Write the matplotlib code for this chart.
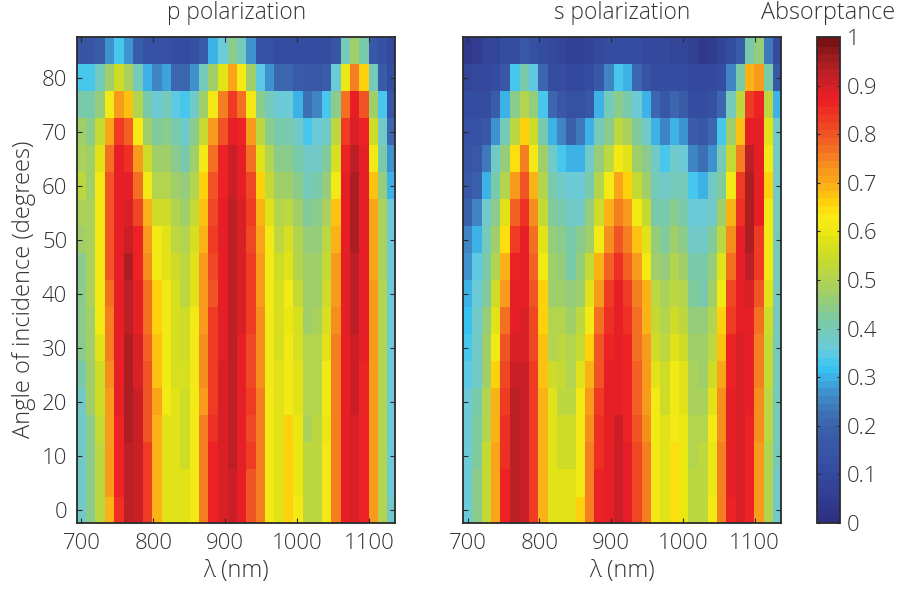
#!/usr/bin/env python3
"""Absorptance maps vs wavelength and angle of incidence, p and s polarization."""

import matplotlib
matplotlib.use('Agg')
import matplotlib.pyplot as plt
from matplotlib.colors import LinearSegmentedColormap

TEXT = '#333333'
plt.rcParams.update({
    'font.family': ['Open Sans', 'Liberation Sans', 'DejaVu Sans'],
    'font.weight': 'light',
    'font.size': 16,
    'text.color': TEXT,
    'axes.labelcolor': TEXT,
    'axes.labelweight': 'light',
    'axes.titleweight': 'light',
    'xtick.labelcolor': TEXT,
    'ytick.labelcolor': TEXT,
})

WAVELENGTHS = [700, 713, 726, 739, 752, 766, 779, 792, 805, 818, 831, 844,
               857, 870, 883, 897, 910, 923, 936, 949, 962, 975, 988, 1001,
               1014, 1028, 1041, 1054, 1067, 1080, 1093, 1106, 1119, 1132]
ANGLES = [85, 80, 75, 70, 65, 60, 55, 50, 45, 40, 35, 30, 25, 20, 15, 10, 5, 0]
X_TICKS = [700, 800, 900, 1000, 1100]
Y_TICKS = [0, 10, 20, 30, 40, 50, 60, 70, 80]
CBAR_TICKS = [0, .1, .2, .3, .4, .5, .6, .7, .8, .9, 1]
CBAR_LABELS = ['0', '0.1', '0.2', '0.3', '0.4', '0.5', '0.6', '0.7', '0.8', '0.9', '1']

# one row per angle, top of the plot first
P_ABS = [
    [.15, .15, .18, .28, .34, .28, .18, .14, .13, .13, .12, .12, .13, .18, .30, .37, .44, .40, .28, .14, .13, .12, .12, .12, .12, .12, .12, .15, .40, .47, .42, .17, .13, .10],
    [.34, .34, .40, .47, .56, .49, .40, .31, .26, .29, .21, .21, .28, .40, .47, .58, .71, .63, .47, .35, .28, .21, .21, .18, .17, .17, .18, .36, .60, .75, .66, .40, .18, .12],
    [.41, .41, .46, .61, .73, .68, .51, .41, .37, .40, .35, .34, .38, .47, .62, .75, .83, .78, .62, .45, .40, .36, .36, .31, .23, .26, .34, .45, .77, .88, .80, .48, .34, .15],
    [.47, .45, .54, .71, .83, .79, .63, .47, .43, .45, .41, .39, .44, .54, .73, .81, .88, .86, .73, .52, .45, .41, .41, .38, .34, .36, .39, .52, .83, .90, .86, .56, .39, .21],
    [.49, .47, .58, .77, .88, .85, .72, .56, .47, .48, .45, .42, .47, .62, .77, .86, .915, .88, .77, .58, .50, .45, .45, .42, .38, .39, .43, .57, .86, .93, .88, .62, .42, .28],
    [.52, .48, .62, .80, .88, .88, .77, .62, .50, .50, .47, .46, .50, .66, .80, .87, .915, .88, .82, .66, .54, .48, .48, .44, .40, .41, .46, .62, .88, .95, .88, .68, .46, .30],
    [.49, .49, .62, .80, .88, .895, .82, .69, .55, .55, .50, .48, .54, .68, .82, .88, .935, .905, .83, .69, .58, .50, .53, .47, .43, .45, .49, .68, .88, .95, .88, .71, .49, .36],
    [.48, .49, .62, .80, .88, .915, .86, .72, .61, .58, .52, .51, .57, .69, .83, .88, .935, .895, .82, .71, .61, .52, .57, .50, .46, .46, .53, .69, .88, .95, .88, .71, .49, .37],
    [.45, .49, .62, .80, .88, .945, .87, .74, .62, .58, .55, .53, .59, .72, .82, .88, .935, .895, .84, .72, .62, .55, .59, .51, .48, .48, .54, .72, .88, .925, .88, .71, .49, .37],
    [.44, .49, .62, .77, .88, .925, .88, .77, .66, .62, .57, .53, .59, .72, .81, .88, .935, .905, .84, .73, .62, .57, .61, .54, .48, .48, .55, .72, .88, .925, .88, .72, .50, .37],
    [.44, .47, .61, .75, .88, .925, .88, .77, .66, .62, .57, .55, .61, .72, .84, .88, .925, .895, .84, .74, .62, .57, .60, .57, .48, .49, .57, .74, .88, .925, .88, .72, .50, .37],
    [.44, .47, .58, .75, .88, .945, .905, .79, .68, .62, .57, .55, .61, .74, .84, .88, .925, .88, .82, .74, .62, .57, .62, .57, .50, .50, .58, .75, .88, .915, .88, .72, .50, .37],
    [.42, .47, .56, .74, .88, .945, .895, .81, .68, .62, .57, .57, .61, .74, .84, .895, .925, .88, .82, .74, .62, .58, .62, .58, .51, .51, .62, .75, .88, .915, .87, .72, .50, .37],
    [.38, .47, .55, .73, .88, .945, .915, .81, .71, .62, .58, .56, .62, .73, .84, .895, .925, .88, .83, .75, .62, .58, .62, .58, .51, .51, .62, .76, .88, .915, .87, .72, .50, .37],
    [.38, .45, .54, .72, .86, .945, .915, .81, .70, .58, .58, .55, .62, .76, .85, .895, .925, .88, .82, .75, .62, .58, .66, .60, .49, .53, .60, .76, .88, .895, .86, .72, .50, .37],
    [.38, .45, .53, .72, .86, .925, .915, .83, .69, .58, .58, .55, .62, .76, .86, .895, .925, .88, .83, .76, .62, .58, .66, .60, .53, .53, .62, .76, .88, .895, .86, .72, .50, .37],
    [.38, .45, .53, .72, .86, .925, .915, .83, .69, .58, .58, .58, .62, .76, .86, .895, .915, .88, .80, .76, .62, .58, .66, .60, .53, .53, .62, .76, .88, .895, .86, .72, .50, .37],
    [.38, .45, .53, .70, .85, .925, .915, .83, .69, .58, .58, .58, .62, .76, .86, .895, .915, .88, .80, .75, .62, .58, .66, .62, .53, .53, .62, .76, .88, .895, .86, .72, .50, .39],
]

S_ABS = [
    [.04, .05, .08, .09, .11, .12, .17, .13, .11, .10, .08, .07, .07, .08, .10, .11, .12, .12, .11, .10, .10, .10, .09, .08, .07, .04, .06, .08, .11, .18, .42, .46, .24, .11],
    [.09, .10, .10, .12, .17, .34, .41, .35, .21, .12, .11, .10, .10, .12, .17, .26, .33, .30, .21, .15, .11, .11, .12, .11, .10, .10, .10, .11, .26, .41, .69, .73, .42, .17],
    [.11, .11, .12, .18, .30, .45, .51, .46, .34, .21, .16, .13, .13, .17, .30, .40, .44, .41, .36, .30, .21, .16, .21, .18, .12, .12, .13, .21, .40, .53, .84, .86, .53, .30],
    [.13, .13, .17, .27, .40, .52, .67, .55, .41, .31, .26, .20, .24, .30, .40, .45, .53, .49, .43, .39, .31, .26, .30, .28, .18, .16, .21, .33, .47, .68, .88, .88, .58, .39],
    [.15, .17, .24, .38, .46, .65, .75, .62, .47, .38, .34, .31, .31, .38, .46, .53, .62, .59, .48, .44, .38, .34, .38, .36, .26, .23, .28, .40, .54, .75, .925, .89, .62, .39],
    [.17, .20, .30, .42, .50, .73, .80, .69, .50, .41, .38, .36, .37, .41, .50, .62, .71, .67, .54, .48, .40, .38, .40, .40, .33, .31, .38, .43, .62, .83, .945, .88, .66, .39],
    [.19, .26, .38, .44, .58, .79, .85, .74, .54, .43, .42, .38, .39, .46, .55, .69, .76, .73, .62, .54, .42, .41, .44, .42, .37, .36, .39, .48, .69, .85, .945, .88, .62, .40],
    [.25, .30, .40, .48, .65, .83, .88, .78, .58, .46, .44, .41, .44, .48, .62, .74, .81, .75, .68, .58, .46, .43, .48, .45, .39, .38, .43, .53, .74, .88, .95, .84, .62, .40],
    [.28, .35, .42, .51, .70, .86, .88, .79, .61, .47, .46, .42, .46, .54, .69, .79, .85, .79, .72, .62, .47, .46, .51, .47, .41, .41, .46, .58, .78, .88, .925, .84, .61, .40],
    [.30, .37, .43, .56, .73, .88, .88, .81, .66, .48, .47, .46, .48, .58, .73, .83, .88, .83, .75, .69, .52, .49, .53, .50, .43, .42, .47, .62, .82, .88, .905, .80, .59, .40],
    [.32, .38, .46, .58, .77, .88, .895, .82, .66, .51, .50, .48, .53, .62, .77, .85, .88, .85, .77, .70, .54, .51, .56, .53, .46, .46, .50, .66, .84, .88, .89, .78, .56, .40],
    [.34, .39, .47, .62, .80, .895, .895, .82, .68, .51, .52, .51, .54, .67, .80, .86, .88, .86, .78, .72, .56, .53, .59, .56, .48, .47, .53, .68, .86, .895, .88, .76, .54, .40],
    [.35, .39, .48, .66, .82, .915, .915, .84, .68, .56, .54, .51, .58, .69, .81, .88, .89, .87, .79, .72, .58, .55, .62, .58, .49, .48, .55, .71, .87, .895, .88, .75, .54, .40],
    [.37, .41, .50, .69, .84, .935, .915, .84, .70, .58, .52, .52, .62, .72, .83, .88, .89, .87, .79, .73, .62, .56, .62, .58, .49, .49, .58, .74, .89, .895, .88, .74, .52, .40],
    [.37, .43, .51, .69, .85, .935, .915, .84, .70, .58, .55, .55, .61, .74, .85, .88, .915, .87, .81, .74, .61, .58, .62, .60, .51, .51, .61, .74, .89, .895, .86, .74, .52, .40],
    [.37, .43, .54, .71, .85, .935, .915, .84, .70, .58, .55, .55, .62, .76, .85, .89, .915, .88, .82, .75, .62, .58, .65, .60, .51, .53, .60, .75, .88, .895, .86, .72, .50, .40],
    [.37, .45, .54, .71, .86, .935, .915, .84, .70, .58, .58, .58, .62, .76, .86, .89, .915, .88, .82, .75, .62, .58, .65, .60, .53, .53, .60, .75, .88, .895, .86, .72, .50, .39],
    [.37, .45, .54, .71, .86, .935, .915, .84, .70, .58, .58, .58, .66, .76, .86, .89, .915, .88, .82, .75, .62, .58, .65, .60, .53, .53, .62, .75, .87, .895, .86, .72, .50, .39],
]

# jet as it came out of the print colour conversion
CMAP_STOPS = [
    (0.00, '#2e3082'), (0.10, '#344a9f'), (0.20, '#3b62ad'), (0.25, '#3f80c0'),
    (0.30, '#3db0e6'), (0.32, '#36c5f4'), (0.36, '#6ccbdc'), (0.42, '#7bc9a4'),
    (0.48, '#a2cf66'), (0.55, '#cbdb2a'), (0.60, '#e8e612'), (0.63, '#f9ed16'),
    (0.66, '#ffd80a'), (0.70, '#fbb017'), (0.75, '#f68b1f'), (0.80, '#f15a24'),
    (0.85, '#ee3524'), (0.88, '#ed1c24'), (0.90, '#dd2027'), (0.93, '#c21f26'),
    (0.95, '#b01e24'), (0.975, '#951b1e'), (1.00, '#7a1214'),
]
CMAP = LinearSegmentedColormap.from_list('print_jet', CMAP_STOPS, N=64)

W, H = 898, 592
INK = '#2a2a2a'
LABEL_SIZE = 17


def px_axes(fig, left, top, right, bottom):
    return fig.add_axes([left / W, 1 - bottom / H, (right - left) / W, (bottom - top) / H])


def style_axes(ax):
    for spine in ax.spines.values():
        spine.set_linewidth(1.3)
        spine.set_color(INK)


def plot_panel(ax, values, title):
    mesh = ax.pcolormesh(WAVELENGTHS, ANGLES, values, cmap=CMAP, vmin=0, vmax=1,
                         shading='nearest', linewidth=0, rasterized=True)
    ax.set_xlim(694, 1136.7)
    ax.set_ylim(-2.4, 87.5)
    ax.set_xticks(X_TICKS)
    ax.set_yticks(Y_TICKS)
    ax.tick_params(direction='in', top=True, right=True, length=3.5, width=0.8,
                   color=INK, pad=7)
    ax.set_xlabel('λ (nm)', fontsize=LABEL_SIZE, labelpad=4)
    ax.set_title(title, fontsize=16.3, pad=13, color=TEXT)
    style_axes(ax)
    return mesh


def main():
    fig = plt.figure(figsize=(W / 100, H / 100), dpi=100)
    ax1 = px_axes(fig, 77, 37, 395.5, 523)
    ax2 = px_axes(fig, 463.3, 37, 781, 523)
    cax = px_axes(fig, 817, 37, 840, 523)

    mesh = plot_panel(ax1, P_ABS, 'p polarization')
    plot_panel(ax2, S_ABS, 's polarization')
    ax1.set_ylabel('Angle of incidence (degrees)', fontsize=LABEL_SIZE)
    ax1.yaxis.set_label_coords(-0.130, 0.48)
    ax2.tick_params(labelleft=False)

    cbar = fig.colorbar(mesh, cax=cax)
    cbar.set_ticks(CBAR_TICKS)
    cbar.set_ticklabels(CBAR_LABELS)
    cbar.ax.tick_params(direction='in', left=True, right=True, length=2.5, width=0.8,
                        color=INK, pad=5)
    cbar.outline.set_linewidth(1.3)
    cbar.outline.set_edgecolor(INK)
    cbar.solids.set_edgecolor('face')
    cax.set_title('Absorptance', fontsize=16.8, pad=13, color=TEXT)

    fig.savefig('out.png', dpi=100)


if __name__ == '__main__':
    main()
